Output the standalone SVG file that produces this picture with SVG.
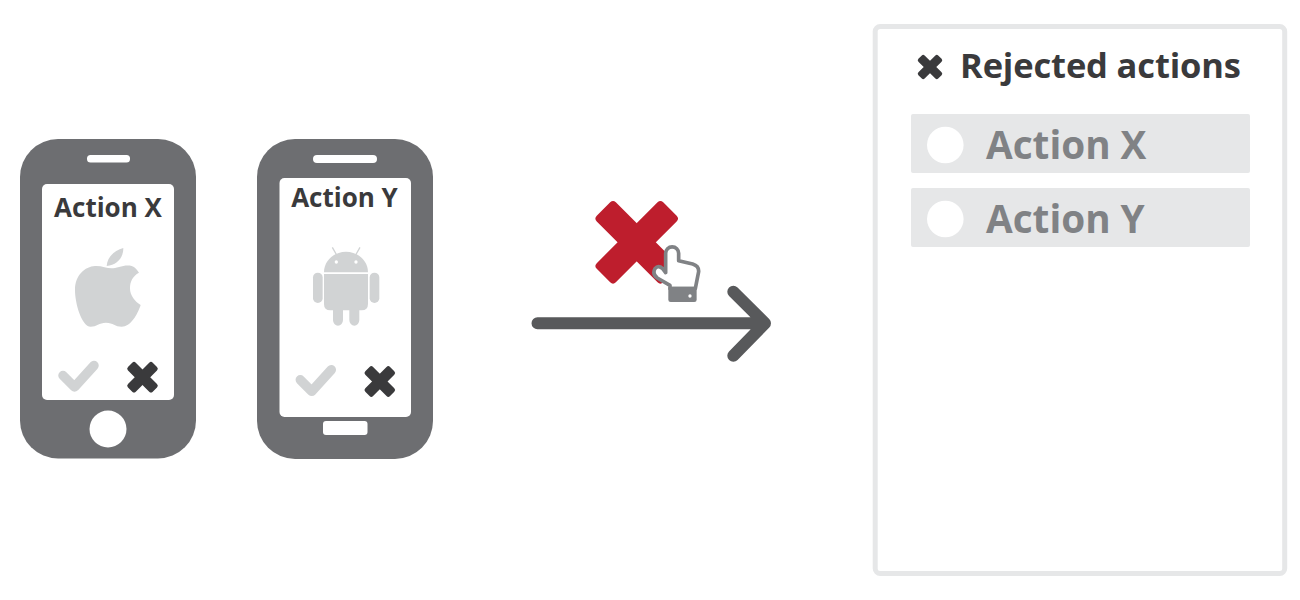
<svg xmlns="http://www.w3.org/2000/svg" width="1300" height="600" viewBox="0 0 1300 600">
<style>
.body{fill:#6d6e71}
.hole{fill:#fff}
.logo{fill:#d1d3d4}
.dark{fill:#3a3a3c}
.t{font-family:"Open Sans","Noto Sans",sans-serif;font-weight:700}
.label{font-size:26px;fill:#3a3a3c;text-anchor:middle}
.row{fill:#e6e7e8}
.rowt{font-size:38.700px;fill:#808285}
.check{fill:none;stroke:#d1d3d4;stroke-width:9.500;stroke-linecap:round;stroke-linejoin:round}
</style>
<defs>
<g id="x"><rect x="-17.500" y="-5.500" width="35" height="11" rx="2.500" transform="rotate(45)"/><rect x="-17.500" y="-5.500" width="35" height="11" rx="2.500" transform="rotate(-45)"/></g>
</defs>
<rect width="1300" height="600" fill="#fff"/>
<g id="phone-x">
<rect class="body" x="20" y="139" width="176" height="319.500" rx="38"/>
<rect class="hole" x="87" y="155" width="43" height="7.500" rx="3.500"/>
<rect class="hole" x="42" y="184" width="132" height="216" rx="5"/>
<circle class="hole" cx="108" cy="429" r="18.500"/>
<text class="t label" x="108" y="217">Action X</text>
<g class="logo" transform="translate(0,130) scale(.3333)">
<path d="M320 408C322 380 345 360 370 354C370 385 350 405 320 408Z"/>
<path d="M335 415C350 415 375 402 395 408C405 411 412 420 417 428C398 438 390 455 390 475C390 497 405 515 422 525C412 555 392 590 365 590C345 590 340 578 318 578C297 578 290 590 272 590C245 590 225 520 225 480C225 435 255 410 285 408C305 407 320 415 335 415Z"/>
</g>
<path class="check" d="M63 375.500L74.500 387L94 365.500"/>
<use href="#x" class="dark" x="142.500" y="377.200"/>
</g>
<g id="phone-y">
<rect class="body" x="257" y="139" width="176" height="320" rx="38"/>
<rect class="hole" x="313" y="155" width="64" height="8" rx="4"/>
<rect class="hole" x="279.500" y="178" width="131.500" height="239" rx="5"/>
<rect class="hole" x="323" y="421" width="44.500" height="14" rx="3"/>
<text class="t label" x="344.500" y="206.500">Action Y</text>
<g class="logo" transform="translate(240,130) scale(.3333)">
<path d="M252 427C252 392 282 365 318 365C354 365 384 392 384 427Z"/>
<path d="M252 432H384V522Q384 541 365 541H358V570A15 17 0 0 1 328 570V541H309V570A15 17 0 0 1 279 570V541H271Q252 541 252 522Z"/>
<rect x="219" y="428" width="29" height="91" rx="14.500"/>
<rect x="389" y="428" width="29" height="91" rx="14.500"/>
<path d="M277 352L290 375M360 352L347 375" fill="none" stroke="#d1d3d4" stroke-width="4"/>
<circle class="hole" cx="289" cy="396" r="5"/>
<circle class="hole" cx="348" cy="396" r="5"/>
</g>
<path class="check" d="M300.300 379.800L311.800 391.300L331.300 369.800"/>
<use href="#x" class="dark" x="379.800" y="381.500"/>
</g>
<g id="reject-control">
<g fill="#be1e2d" transform="translate(636.700,242.300)"><rect x="-47" y="-13.500" width="94" height="27" rx="4" transform="rotate(45)"/><rect x="-47" y="-13.500" width="94" height="27" rx="4" transform="rotate(-45)"/></g>
<g transform="translate(520,190) scale(.3333)">
<path d="M437 248V190A19.500 19.500 0 0 1 476 190V212L518 222Q537 228 536 245L526 296H450V286L412 264Q396 252 405 236Q415 224 428 236Z" fill="#fff" stroke="#808285" stroke-width="11" stroke-linejoin="round"/>
<rect x="445" y="290" width="85" height="46" rx="7" fill="#808285"/>
<circle class="hole" cx="510" cy="318" r="5"/>
</g>
</g>
<g id="connectors">
<path d="M537.500 323.300H765M733.300 291.700L765 323.300L733.300 355.700" fill="none" stroke="#58595b" stroke-width="12" stroke-linecap="round" stroke-linejoin="round"/>
</g>
<g id="rejected-panel">
<rect x="875.200" y="26.500" width="409.500" height="547" rx="5" fill="#fff" stroke="#e6e7e8" stroke-width="5"/>
<use href="#x" class="dark" transform="translate(930,67) scale(.8)"/>
<text class="t" x="960" y="78" font-size="34.500" letter-spacing="-.15" fill="#3a3a3c">Rejected actions</text>
<g id="row-x">
<rect class="row" x="911" y="114" width="339" height="59" rx="2"/>
<circle class="hole" cx="945.300" cy="145" r="18.300"/>
<text class="t rowt" x="986" y="159">Action X</text>
</g>
<g id="row-y">
<rect class="row" x="911" y="188" width="339" height="59" rx="2"/>
<circle class="hole" cx="945.300" cy="219" r="18.300"/>
<text class="t rowt" x="986" y="233">Action Y</text>
</g>
</g>
</svg>
